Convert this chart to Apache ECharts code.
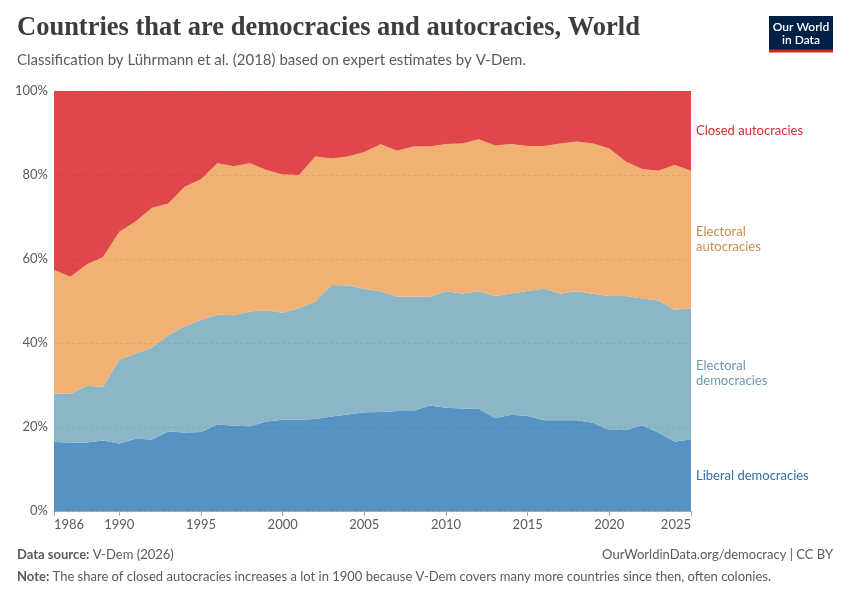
<!DOCTYPE html>
<html>
<head>
<meta charset="utf-8">
<script src="https://cdn.jsdelivr.net/npm/echarts@6/dist/echarts.min.js"></script>
<style>
html,body{margin:0;padding:0;background:#fff;}
#chart{width:850px;height:600px;}
</style>
</head>
<body>
<div id="chart"></div>
<script>
const years = [1986,1987,1988,1989,1990,1991,1992,1993,1994,1995,1996,1997,1998,1999,2000,2001,2002,2003,2004,2005,2006,2007,2008,2009,2010,2011,2012,2013,2014,2015,2016,2017,2018,2019,2020,2021,2022,2023,2024,2025];
const liberalDemocracies = [16.4,16.3,16.3,16.8,16.1,17.2,17.0,18.9,18.7,18.8,20.6,20.3,20.2,21.3,21.7,21.7,21.9,22.5,23.0,23.5,23.6,23.8,23.8,25.1,24.6,24.4,24.4,22.1,22.9,22.6,21.6,21.6,21.6,21.0,19.3,19.3,20.4,18.7,16.5,17.1];
const electoralDemocracies = [11.6,11.6,13.5,12.8,19.9,20.3,21.9,23.0,25.3,26.7,26.2,26.3,27.3,26.5,25.5,26.6,28.0,31.3,30.7,29.4,28.7,27.2,27.2,25.9,27.7,27.4,27.9,29.1,28.9,29.8,31.3,30.2,30.7,30.7,31.9,31.9,30.2,31.4,31.4,31.2];
const electoralAutocracies = [29.4,27.9,28.9,30.9,30.5,31.4,33.3,31.3,33.2,33.5,36.0,35.5,35.3,33.4,32.9,31.7,34.5,30.1,30.7,32.6,35.0,34.8,35.8,35.8,35.1,35.7,36.2,35.8,35.6,34.5,34.0,35.7,35.7,35.8,35.1,32.0,30.8,30.9,34.5,32.7];
const closedAutocracies = [42.6,44.2,41.3,39.5,33.5,31.1,27.8,26.8,22.8,21.0,17.2,17.9,17.2,18.8,19.9,20.0,15.6,16.1,15.6,14.5,12.7,14.2,13.2,13.2,12.6,12.5,11.5,13.0,12.6,13.1,13.1,12.5,12.0,12.5,13.7,16.8,18.6,19.0,17.6,19.0];
const xTickYears = [1986,1990,1995,2000,2005,2010,2015,2020,2025];
const seriesNames = ['Liberal democracies','Electoral democracies','Electoral autocracies','Closed autocracies'];

const chart = echarts.init(document.getElementById('chart'), null, {renderer:'canvas'});
const fills = ['#5693c4','#8ab6c6','#f0b173','#e0474b'];
const labelColors = ['#2f6fa8','#6b9bad','#c98a4a','#d42b32'];
const dataArr = [liberalDemocracies, electoralDemocracies, electoralAutocracies, closedAutocracies];
const showTick = (i, v) => xTickYears.indexOf(Number(v)) >= 0;

const series = dataArr.map((d, i) => ({
  name: seriesNames[i],
  type: 'line',
  stack: 'total',
  data: d,
  symbol: 'none',
  lineStyle: {width: 0},
  areaStyle: {color: fills[i], opacity: 1},
  itemStyle: {color: fills[i]},
  z: 2
}));

chart.setOption({
  animation: false,
  backgroundColor: '#fff',
  grid: {left: 54, right: 159, top: 91, bottom: 89, containLabel: false},
  xAxis: {
    type: 'category',
    data: years,
    boundaryGap: false,
    axisLine: {show: true, lineStyle: {color: '#aaa'}},
    axisTick: {show: true, interval: showTick, length: 5, lineStyle: {color: '#aaa'}},
    axisLabel: {interval: showTick, color: '#5b5b5b', fontFamily: 'Lato', fontSize: 13, margin: 7, alignMinLabel: 'left', alignMaxLabel: 'right'},
    splitLine: {show: false}
  },
  yAxis: {
    type: 'value', min: 0, max: 100, interval: 20,
    z: 5,
    axisLine: {show: false}, axisTick: {show: false},
    axisLabel: {formatter: '{value}%', color: '#5b5b5b', fontFamily: 'Lato', fontSize: 13, margin: 6},
    splitLine: {show: true, lineStyle: {color: 'rgba(0,0,0,0.08)', type: [3,3], width: 1}}
  },
  series: series,
  graphic: [
    {type:'text', left:17, top:15, style:{text:'Countries that are democracies and autocracies, World', fill:'#3d3d3d', font:'bold 26.5px "Liberation Serif"'}},
    {type:'text', left:17, top:53, style:{text:'Classification by Lührmann et al. (2018) based on expert estimates by V-Dem.', fill:'#5b5b5b', font:'15px Lato'}},
    {type:'rect', left:769, top:16, shape:{width:64, height:34}, style:{fill:'#002147'}},
    {type:'rect', left:769, top:49.5, shape:{width:64, height:3}, style:{fill:'#ce261e'}},
    {type:'text', x:801, y:20, style:{text:'Our World\nin Data', fill:'#fff', font:'600 12px Lato', lineHeight:13.5, align:'center', verticalAlign:'top'}},
    {type:'text', left:696, top:124, style:{text:'Closed autocracies', fill:labelColors[3], font:'13px Lato'}},
    {type:'text', left:696, top:225, style:{text:'Electoral\nautocracies', fill:labelColors[2], font:'13px Lato', lineHeight:14.5}},
    {type:'text', left:696, top:359, style:{text:'Electoral\ndemocracies', fill:labelColors[1], font:'13px Lato', lineHeight:14.5}},
    {type:'text', left:696, top:469, style:{text:'Liberal democracies', fill:labelColors[0], font:'13px Lato'}},
    {type:'text', left:17, top:548, style:{rich:{b:{fill:'#5b5b5b', font:'bold 13px Lato'}, n:{fill:'#5b5b5b', font:'13px Lato'}}, text:'{b|Data source:} {n|V-Dem (2026)}'}},
    {type:'text', right:17, top:548, style:{text:'OurWorldinData.org/democracy | CC BY', fill:'#5b5b5b', font:'13px Lato'}},
    {type:'text', left:17, top:570, style:{rich:{b:{fill:'#5b5b5b', font:'bold 13px Lato'}, n:{fill:'#5b5b5b', font:'13px Lato'}}, text:'{b|Note:} {n|The share of closed autocracies increases a lot in 1900 because V-Dem covers many more countries since then, often colonies.}'}}
  ]
});
</script>
</body>
</html>
